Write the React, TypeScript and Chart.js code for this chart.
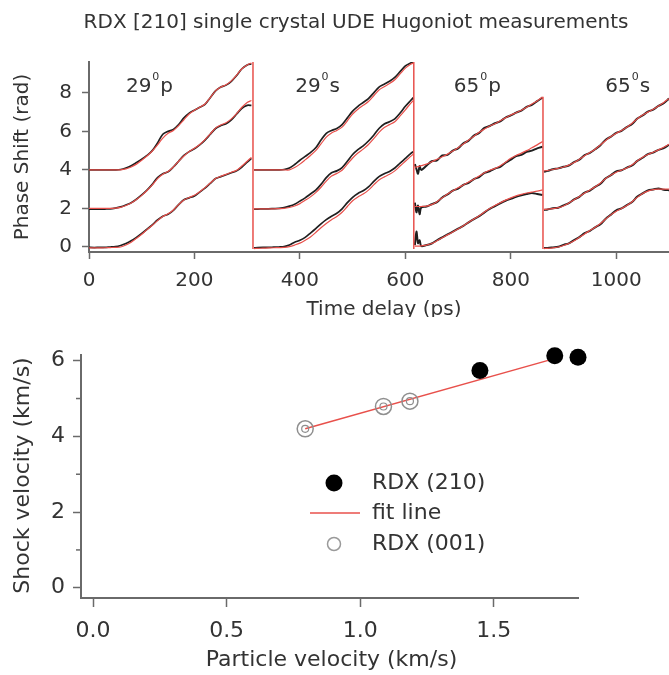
import React, { useEffect, useRef } from 'react';
import { Chart, registerables } from 'chart.js';
Chart.register(...registerables);

// ---------- text ----------
const TITLE = 'RDX [210] single crystal UDE Hugoniot measurements';
const TOP_X_TITLE = 'Time delay (ps)';
const TOP_Y_TITLE = 'Phase Shift (rad)';
const BOT_X_TITLE = 'Particle velocity (km/s)';
const BOT_Y_TITLE = 'Shock velocity (km/s)';
const SEG_NUM = ['29', '29', '65', '65'];
const SEG_POL = ['p', 's', 'p', 's'];
const SEG_LABEL_X = [70, 391, 692, 979];
const SEG_LABEL_Y = 8.05;
const LEGEND_LABELS = ['RDX (210)', 'fit line', 'RDX (001)'];

// ---------- top panel data (time delay ps, phase shift rad) ----------
const X_29P = [0, 10, 20, 30, 40, 50, 60, 70, 80, 90, 100, 110, 120, 130, 140, 150, 160, 170, 180, 190, 200, 210, 220, 230, 240, 250, 260, 270, 280, 290, 300, 308];
const BLK_29P_TOP = [4.0, 4.0, 4.0, 4.0, 4.0, 4.0, 4.02, 4.1, 4.22, 4.38, 4.55, 4.75, 5.0, 5.4, 5.85, 6.0, 6.1, 6.35, 6.7, 6.95, 7.1, 7.25, 7.4, 7.75, 8.1, 8.3, 8.4, 8.6, 8.9, 9.25, 9.45, 9.5];
const RED_29P_TOP = [4.0, 4.0, 4.0, 4.0, 4.0, 4.0, 4.0, 4.05, 4.15, 4.3, 4.5, 4.72, 4.98, 5.3, 5.65, 5.9, 6.05, 6.3, 6.6, 6.9, 7.1, 7.25, 7.42, 7.75, 8.1, 8.3, 8.42, 8.62, 8.92, 9.25, 9.45, 9.55];
const BLK_29P_MID = [1.97, 1.96, 1.96, 1.97, 1.98, 2.02, 2.08, 2.18, 2.3, 2.48, 2.7, 2.95, 3.25, 3.6, 3.8, 3.9, 4.15, 4.45, 4.75, 4.95, 5.1, 5.3, 5.55, 5.85, 6.15, 6.3, 6.4, 6.6, 6.9, 7.2, 7.35, 7.35];
const RED_29P_MID = [2.0, 2.0, 2.0, 2.0, 2.0, 2.02, 2.06, 2.15, 2.28, 2.46, 2.68, 2.93, 3.22, 3.55, 3.78, 3.92, 4.15, 4.45, 4.72, 4.95, 5.12, 5.32, 5.57, 5.87, 6.17, 6.33, 6.45, 6.65, 6.92, 7.25, 7.5, 7.6];
const BLK_29P_BOT = [-0.02, -0.03, -0.02, -0.02, 0.0, 0.02, 0.08, 0.18, 0.32, 0.5, 0.7, 0.92, 1.15, 1.4, 1.6, 1.7, 1.9, 2.2, 2.45, 2.55, 2.65, 2.85, 3.05, 3.3, 3.55, 3.65, 3.75, 3.85, 3.95, 4.15, 4.4, 4.6];
const RED_29P_BOT = [-0.05, -0.05, -0.05, -0.04, -0.03, -0.02, 0.0, 0.1, 0.25, 0.45, 0.66, 0.9, 1.13, 1.37, 1.58, 1.72, 1.92, 2.2, 2.44, 2.57, 2.68, 2.87, 3.08, 3.32, 3.55, 3.67, 3.77, 3.88, 3.98, 4.2, 4.45, 4.65];

const X_29S = [313, 320, 330, 340, 350, 360, 370, 380, 390, 400, 410, 420, 430, 440, 450, 460, 470, 480, 490, 500, 510, 520, 530, 540, 550, 560, 570, 580, 590, 600, 610, 615];
const BLK_29S_TOP = [4.0, 4.0, 4.0, 4.0, 4.0, 4.0, 4.02, 4.1, 4.28, 4.5, 4.7, 4.9, 5.15, 5.55, 5.9, 6.05, 6.15, 6.35, 6.7, 7.05, 7.3, 7.5, 7.7, 8.0, 8.3, 8.45, 8.6, 8.8, 9.1, 9.4, 9.55, 9.6];
const RED_29S_TOP = [4.0, 4.0, 4.0, 4.0, 4.0, 4.0, 4.0, 4.0, 4.12, 4.3, 4.52, 4.75, 5.0, 5.35, 5.7, 5.92, 6.05, 6.22, 6.55, 6.9, 7.15, 7.35, 7.55, 7.85, 8.15, 8.32, 8.48, 8.68, 8.98, 9.28, 9.48, 9.55];
const BLK_29S_MID = [1.97, 1.97, 1.98, 1.98, 1.99, 2.0, 2.05, 2.12, 2.22, 2.38, 2.55, 2.75, 2.95, 3.25, 3.6, 3.85, 3.95, 4.12, 4.45, 4.8, 5.05, 5.25, 5.5, 5.8, 6.15, 6.38, 6.5, 6.65, 6.95, 7.3, 7.6, 7.75];
const RED_29S_MID = [1.98, 1.98, 1.98, 1.98, 1.98, 1.99, 2.0, 2.05, 2.13, 2.25, 2.42, 2.6, 2.82, 3.1, 3.42, 3.68, 3.82, 3.98, 4.3, 4.62, 4.88, 5.08, 5.32, 5.62, 5.95, 6.2, 6.35, 6.5, 6.8, 7.12, 7.45, 7.6];
const BLK_29S_BOT = [-0.05, -0.03, -0.02, -0.02, -0.01, 0.0, 0.02, 0.1, 0.25, 0.35, 0.5, 0.72, 0.95, 1.2, 1.42, 1.6, 1.75, 1.98, 2.3, 2.58, 2.78, 2.92, 3.12, 3.4, 3.65, 3.8, 3.92, 4.1, 4.35, 4.6, 4.85, 4.95];
const RED_29S_BOT = [-0.08, -0.07, -0.06, -0.05, -0.04, -0.03, -0.02, 0.02, 0.1, 0.2, 0.35, 0.52, 0.75, 1.0, 1.22, 1.42, 1.58, 1.8, 2.1, 2.4, 2.6, 2.75, 2.95, 3.22, 3.48, 3.64, 3.77, 3.95, 4.2, 4.45, 4.7, 4.82];

const X_65P = [618, 621, 624, 627, 630, 640, 650, 660, 670, 680, 690, 700, 710, 720, 730, 740, 750, 760, 770, 780, 790, 800, 810, 820, 830, 840, 850, 860];
const BLK_65P_TOP = [4.3, 4.05, 3.8, 4.2, 4.0, 4.22, 4.45, 4.5, 4.75, 4.78, 5.0, 5.12, 5.38, 5.52, 5.78, 5.92, 6.18, 6.28, 6.42, 6.52, 6.72, 6.83, 6.97, 7.08, 7.27, 7.38, 7.57, 7.75];
const RED_65P_TOP = [4.15, 4.15, 4.17, 4.2, 4.22, 4.3, 4.42, 4.55, 4.68, 4.82, 4.98, 5.15, 5.35, 5.55, 5.75, 5.95, 6.12, 6.28, 6.4, 6.55, 6.7, 6.85, 6.97, 7.1, 7.25, 7.42, 7.58, 7.78];
const BLK_65P_MID = [2.3, 1.8, 2.15, 1.7, 2.05, 2.1, 2.22, 2.33, 2.57, 2.73, 2.92, 3.03, 3.22, 3.33, 3.52, 3.63, 3.84, 3.93, 4.07, 4.16, 4.37, 4.53, 4.72, 4.78, 4.94, 5.0, 5.12, 5.2];
const RED_65P_MID = [2.1, 2.1, 2.1, 2.1, 2.1, 2.12, 2.2, 2.35, 2.55, 2.75, 2.92, 3.07, 3.22, 3.37, 3.52, 3.68, 3.85, 3.98, 4.08, 4.22, 4.4, 4.6, 4.75, 4.87, 5.0, 5.15, 5.3, 5.47];
const BLK_65P_BOT = [0.1, 0.8, 0.2, 0.35, 0.05, 0.1, 0.18, 0.35, 0.5, 0.65, 0.8, 0.95, 1.1, 1.28, 1.45, 1.6, 1.8, 1.98, 2.12, 2.27, 2.4, 2.5, 2.6, 2.68, 2.75, 2.8, 2.75, 2.7];
const RED_65P_BOT = [0.05, 0.05, 0.05, 0.05, 0.06, 0.1, 0.18, 0.32, 0.48, 0.63, 0.78, 0.93, 1.1, 1.28, 1.45, 1.62, 1.82, 2.0, 2.15, 2.3, 2.43, 2.55, 2.65, 2.73, 2.8, 2.85, 2.9, 2.96];

const X_65S = [863, 870, 880, 890, 900, 910, 920, 930, 940, 950, 960, 970, 980, 990, 1000, 1010, 1020, 1030, 1040, 1050, 1060, 1070, 1080, 1090, 1100];
const BLK_65S_TOP = [3.9, 3.95, 4.03, 4.08, 4.16, 4.23, 4.4, 4.53, 4.77, 4.88, 5.07, 5.28, 5.57, 5.73, 5.92, 6.03, 6.22, 6.38, 6.67, 6.83, 7.02, 7.13, 7.32, 7.46, 7.7];
const RED_65S_TOP = [3.95, 3.97, 4.02, 4.08, 4.15, 4.25, 4.38, 4.55, 4.73, 4.9, 5.07, 5.3, 5.53, 5.73, 5.9, 6.05, 6.22, 6.42, 6.65, 6.85, 7.0, 7.15, 7.32, 7.5, 7.7];
const BLK_65S_MID = [1.92, 1.95, 2.01, 2.04, 2.16, 2.28, 2.47, 2.6, 2.82, 2.93, 3.12, 3.28, 3.57, 3.73, 3.92, 3.98, 4.12, 4.23, 4.47, 4.63, 4.82, 4.9, 5.04, 5.13, 5.3];
const RED_65S_MID = [1.95, 1.96, 1.99, 2.04, 2.13, 2.28, 2.45, 2.62, 2.8, 2.96, 3.12, 3.32, 3.55, 3.74, 3.88, 3.99, 4.1, 4.27, 4.47, 4.66, 4.8, 4.92, 5.04, 5.18, 5.33];
const BLK_65S_BOT = [-0.05, -0.05, -0.02, 0.01, 0.11, 0.19, 0.36, 0.51, 0.72, 0.84, 1.02, 1.18, 1.47, 1.68, 1.9, 2.0, 2.17, 2.33, 2.62, 2.78, 2.94, 2.98, 3.04, 2.97, 2.95];
const RED_65S_BOT = [-0.08, -0.07, -0.05, 0.0, 0.08, 0.18, 0.32, 0.5, 0.68, 0.85, 1.02, 1.22, 1.45, 1.68, 1.86, 2.0, 2.15, 2.35, 2.58, 2.78, 2.9, 2.98, 3.0, 3.0, 3.0];

// red fit-trace jumps between the segments
const JUMP_X = [311, 616, 861];
const JUMP_TOP = [9.6, 9.6, 7.8];
const JUMP_BOTTOM = [-0.1, -0.1, -0.1];

const TOP_X_TICKS = [0, 200, 400, 600, 800, 1000];
const TOP_Y_TICKS = [0, 2, 4, 6, 8];

// ---------- bottom panel data (km/s) ----------
const UP_210 = [1.448, 1.728, 1.815];
const US_210 = [5.74, 6.13, 6.09];
const UP_001 = [0.794, 1.087, 1.186];
const US_001 = [4.2, 4.79, 4.93];
const FIT_UP = [0.794, 1.75];
const FIT_US = [4.2, 6.1];
const BOT_MINOR_Y = [1, 3, 5];

// ---------- styling ----------
const FONT = '"DejaVu Sans", sans-serif';
const TEXT = '#333333';
const AXIS = '#6a6a6a';
const BLACK = '#1f1f1f';
const RED = '#e8504b';
const W = 669;
const TOP_H = 317;
const BOT_H = 358;

const pts = (xs: number[], ys: number[]) => xs.map((x, i) => ({ x, y: ys[i] }));

export default function App() {
  const topRef = useRef<HTMLCanvasElement>(null);
  const botRef = useRef<HTMLCanvasElement>(null);

  useEffect(() => {
    const segs = [
      { xs: X_29P, blk: [BLK_29P_TOP, BLK_29P_MID, BLK_29P_BOT], red: [RED_29P_TOP, RED_29P_MID, RED_29P_BOT], noisy: false },
      { xs: X_29S, blk: [BLK_29S_TOP, BLK_29S_MID, BLK_29S_BOT], red: [RED_29S_TOP, RED_29S_MID, RED_29S_BOT], noisy: false },
      { xs: X_65P, blk: [BLK_65P_TOP, BLK_65P_MID, BLK_65P_BOT], red: [RED_65P_TOP, RED_65P_MID, RED_65P_BOT], noisy: true },
      { xs: X_65S, blk: [BLK_65S_TOP, BLK_65S_MID, BLK_65S_BOT], red: [RED_65S_TOP, RED_65S_MID, RED_65S_BOT], noisy: true },
    ];
    const topSets: any[] = [];
    segs.forEach((s) => {
      s.blk.forEach((ys) => topSets.push({
        data: pts(s.xs, ys), borderColor: BLACK, borderWidth: s.noisy ? 2 : 1.7,
        pointRadius: 0, tension: 0.3, order: 2,
      }));
      s.red.forEach((ys) => topSets.push({
        data: pts(s.xs, ys), borderColor: RED, borderWidth: 1.2,
        pointRadius: 0, tension: 0.3, order: 1,
      }));
    });
    JUMP_X.forEach((x, i) => topSets.push({
      data: [{ x, y: JUMP_BOTTOM[i] }, { x, y: JUMP_TOP[i] }],
      borderColor: RED, borderWidth: 1.5, pointRadius: 0, order: 1,
    }));

    const topDeco = {
      id: 'topDeco',
      afterDraw(chart: any) {
        const { ctx, chartArea, scales } = chart;
        ctx.save();
        ctx.fillStyle = TEXT;
        ctx.textAlign = 'center';
        ctx.textBaseline = 'middle';
        ctx.font = `20px ${FONT}`;
        ctx.fillText(TITLE, 356, 23);
        ctx.fillText(TOP_X_TITLE, (chartArea.left + chartArea.right) / 2 + 5, 310);
        ctx.save();
        ctx.translate(23, (chartArea.top + chartArea.bottom) / 2);
        ctx.rotate(-Math.PI / 2);
        ctx.fillText(TOP_Y_TITLE, 0, 0);
        ctx.restore();
        ctx.textAlign = 'left';
        ctx.textBaseline = 'alphabetic';
        SEG_NUM.forEach((num, i) => {
          const px = scales.x.getPixelForValue(SEG_LABEL_X[i]);
          const py = scales.y.getPixelForValue(SEG_LABEL_Y);
          ctx.font = `20px ${FONT}`;
          ctx.fillText(num, px, py);
          const w1 = ctx.measureText(num).width;
          ctx.font = `11px ${FONT}`;
          ctx.fillText('0', px + w1 + 1, py - 12);
          const w2 = ctx.measureText('0').width;
          ctx.font = `20px ${FONT}`;
          ctx.fillText(SEG_POL[i], px + w1 + w2 + 2, py);
        });
        ctx.restore();
      },
    };

    const top = new Chart(topRef.current!, {
      type: 'line',
      data: { datasets: topSets },
      options: {
        responsive: false,
        animation: false,
        events: [],
        layout: { padding: { top: 62, left: 0, right: 0, bottom: 0 } },
        plugins: { legend: { display: false }, tooltip: { enabled: false } },
        scales: {
          x: {
            type: 'linear', min: 0, max: 1100,
            afterFit: (s: any) => { s.height = TOP_H - 252; },
            afterBuildTicks: (s: any) => { s.ticks = TOP_X_TICKS.map((v) => ({ value: v })); },
            ticks: { autoSkip: false, maxRotation: 0, padding: 10, color: TEXT, font: { family: FONT, size: 20 }, callback: (v: any) => String(v) },
            grid: { drawOnChartArea: false, drawTicks: true, tickLength: 7, tickWidth: 1.5, tickColor: AXIS },
            border: { display: true, color: AXIS, width: 2 },
          },
          y: {
            type: 'linear', min: -0.26, max: 9.6,
            afterFit: (s: any) => { s.width = 89; },
            afterBuildTicks: (s: any) => { s.ticks = TOP_Y_TICKS.map((v) => ({ value: v })); },
            ticks: { autoSkip: false, padding: 10, color: TEXT, font: { family: FONT, size: 20 }, callback: (v: any) => String(v) },
            grid: { drawOnChartArea: false, drawTicks: true, tickLength: 7, tickWidth: 1.5, tickColor: AXIS },
            border: { display: true, color: AXIS, width: 2 },
          },
        },
      },
      plugins: [topDeco],
    });

    const botDeco = {
      id: 'botDeco',
      afterDraw(chart: any) {
        const { ctx, chartArea, scales } = chart;
        ctx.save();
        // minor ticks
        ctx.strokeStyle = AXIS;
        ctx.lineWidth = 1.5;
        BOT_MINOR_Y.forEach((v) => {
          const py = scales.y.getPixelForValue(v);
          ctx.beginPath();
          ctx.moveTo(chartArea.left - 5, py);
          ctx.lineTo(chartArea.left, py);
          ctx.stroke();
        });
        ctx.fillStyle = TEXT;
        ctx.textAlign = 'center';
        ctx.textBaseline = 'middle';
        ctx.font = `22px ${FONT}`;
        ctx.fillText(BOT_X_TITLE, (chartArea.left + chartArea.right) / 2 + 2, 660 - 317);
        ctx.save();
        ctx.translate(23, (chartArea.top + chartArea.bottom) / 2 - 1);
        ctx.rotate(-Math.PI / 2);
        ctx.fillText(BOT_Y_TITLE, 0, 0);
        ctx.restore();
        // legend
        const lx = 334;
        const ly = [483 - 317, 513 - 317, 544 - 317];
        ctx.fillStyle = '#000';
        ctx.beginPath();
        ctx.arc(lx, ly[0], 8.5, 0, Math.PI * 2);
        ctx.fill();
        ctx.strokeStyle = RED;
        ctx.lineWidth = 1.5;
        ctx.beginPath();
        ctx.moveTo(310, ly[1]);
        ctx.lineTo(360, ly[1]);
        ctx.stroke();
        ctx.strokeStyle = '#9a9a9a';
        ctx.lineWidth = 1.5;
        ctx.beginPath();
        ctx.arc(lx, ly[2], 6.5, 0, Math.PI * 2);
        ctx.stroke();
        ctx.fillStyle = TEXT;
        ctx.textAlign = 'left';
        ctx.font = `22px ${FONT}`;
        LEGEND_LABELS.forEach((t, i) => ctx.fillText(t, 372, ly[i]));
        ctx.restore();
      },
    };

    const bot = new Chart(botRef.current!, {
      type: 'scatter',
      data: {
        datasets: [
          { type: 'line', data: pts(FIT_UP, FIT_US), borderColor: RED, borderWidth: 1.5, pointRadius: 0, order: 3 },
          { data: pts(UP_001, US_001), pointRadius: 8, borderColor: '#8f8f8f', borderWidth: 1.5, backgroundColor: 'rgba(255,255,255,0)', clip: false, order: 2 },
          { data: pts(UP_001, US_001), pointRadius: 3.5, borderColor: '#8f8f8f', borderWidth: 1.2, backgroundColor: 'rgba(255,255,255,0)', clip: false, order: 2 },
          { data: pts(UP_210, US_210), pointRadius: 8.5, borderWidth: 0, backgroundColor: '#000', borderColor: '#000', clip: false, order: 1 },
        ],
      },
      options: {
        responsive: false,
        animation: false,
        events: [],
        layout: { padding: { top: 355 - 317, left: 0, right: W - 578, bottom: 0 } },
        plugins: { legend: { display: false }, tooltip: { enabled: false } },
        scales: {
          x: {
            type: 'linear', min: -0.045, max: 1.815,
            afterFit: (s: any) => { s.height = BOT_H - (598 - 317); },
            ticks: { stepSize: 0.5, includeBounds: false, autoSkip: false, maxRotation: 0, padding: 11, color: TEXT, font: { family: FONT, size: 22 }, callback: (v: any) => Number(v).toFixed(1) },
            grid: { drawOnChartArea: false, drawTicks: true, tickLength: 9, tickWidth: 1.5, tickColor: AXIS },
            border: { display: true, color: AXIS, width: 2 },
          },
          y: {
            type: 'linear', min: -0.27, max: 6.15,
            afterFit: (s: any) => { s.width = 81; },
            ticks: { stepSize: 1, includeBounds: false, autoSkip: false, padding: 8, color: TEXT, font: { family: FONT, size: 22 }, callback: (v: any) => (Number(v) % 2 === 0 ? String(v) : '') },
            grid: {
              drawOnChartArea: false, drawTicks: true, tickLength: 8, tickWidth: 1.5,
              tickColor: (c: any) => (c.tick && Number(c.tick.value) % 2 === 0 ? AXIS : 'rgba(0,0,0,0)'),
            },
            border: { display: true, color: AXIS, width: 2 },
          },
        },
      },
      plugins: [botDeco],
    });

    return () => { top.destroy(); bot.destroy(); };
  }, []);

  return (
    <div style={{ position: 'absolute', left: 0, top: 0, width: W, height: 675, background: '#fff' }}>
      <canvas ref={topRef} width={W} height={TOP_H} style={{ position: 'absolute', left: 0, top: 0, display: 'block' }} />
      <canvas ref={botRef} width={W} height={BOT_H} style={{ position: 'absolute', left: 0, top: TOP_H, display: 'block' }} />
    </div>
  );
}
